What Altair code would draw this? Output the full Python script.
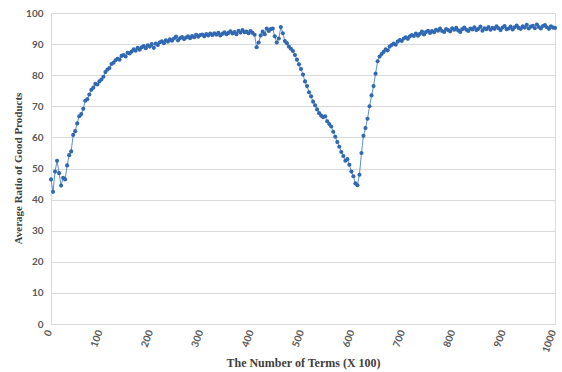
import altair as alt
import pandas as pd

x_step = 4
ratio = [
    46.5, 42.5, 49.0, 52.5, 48.5, 44.5, 47.0, 46.5, 51.0, 54.3,
    55.5, 60.8, 62.0, 64.5, 66.8, 67.5, 69.2, 71.8, 72.3, 73.8,
    75.3, 76.0, 77.2, 77.0, 78.0, 78.6, 79.5, 81.0, 81.8, 82.3,
    83.6, 84.0, 84.8, 85.3, 85.0, 86.2, 86.5, 86.0, 87.2, 87.0,
    87.6, 88.3, 87.9, 88.8, 88.2, 89.0, 89.4, 88.7, 89.6, 89.2,
    90.0, 88.8, 90.2, 89.7, 90.6, 90.9, 90.3, 91.2, 90.8, 91.5,
    91.1, 91.8, 92.4, 91.2, 91.9, 92.3, 91.6, 92.1, 92.5, 91.9,
    92.6, 92.2, 93.0, 92.4, 92.9, 93.1, 92.5, 93.2, 92.8, 93.4,
    92.9, 93.5, 93.0, 93.6, 92.8, 93.3, 93.8, 93.2, 93.6, 94.1,
    93.4, 93.9, 93.2, 94.3, 93.7, 94.5, 93.8, 94.0, 93.5, 94.2,
    93.6, 93.0, 89.0, 90.5, 92.8, 94.0, 93.2, 95.0, 94.2, 94.8,
    95.0, 92.5, 90.5, 91.8, 95.5, 93.5, 91.0, 90.3, 89.2, 88.5,
    87.8, 86.5, 85.0, 83.5, 82.0, 80.2, 78.0, 76.5, 74.5, 73.2,
    71.5, 70.3, 69.0, 67.8, 67.0, 66.5, 66.8, 65.2, 64.3, 63.5,
    61.8, 60.2, 58.5, 57.0, 55.3, 54.0, 52.5, 53.0, 51.2, 49.0,
    47.5, 45.2, 44.6, 48.0, 55.0, 60.5, 63.0, 66.0, 70.0, 73.5,
    76.5, 80.5, 84.5, 86.0, 86.8, 87.5, 88.3, 88.0, 89.2, 89.7,
    90.2, 89.8, 90.8, 91.3, 91.0, 91.8, 92.2, 91.7, 92.5, 92.9,
    92.6, 93.4, 92.7, 93.3, 94.0, 93.1, 93.9, 94.3, 93.6, 94.2,
    93.8, 94.6, 94.3, 95.0, 94.2, 93.9, 94.8, 94.5, 94.1, 95.1,
    94.6, 95.2, 94.4, 93.9, 94.8, 95.3, 94.6, 94.2, 95.0, 94.7,
    95.4, 94.5, 94.9, 95.6, 94.3, 95.1, 94.8, 95.5, 94.6, 95.2,
    94.9, 95.7, 95.1, 94.5, 95.3, 95.8, 94.8, 95.0, 95.6, 94.7,
    95.4, 96.0, 95.2, 94.9, 95.7, 95.3, 96.2, 95.0, 95.6, 95.9,
    95.1, 96.3, 95.5, 95.0, 95.8, 96.1, 95.4, 94.9, 95.7, 95.3,
    95.2,
]
x_ticks = [0, 100, 200, 300, 400, 500, 600, 700, 800, 900, 1000]
y_ticks = [0, 10, 20, 30, 40, 50, 60, 70, 80, 90, 100]

df = pd.DataFrame({"terms": [i * x_step for i in range(len(ratio))], "ratio": ratio})

x_enc = alt.X(
    "terms:Q",
    scale=alt.Scale(domain=[0, 1000], nice=False),
    axis=alt.Axis(
        values=x_ticks, format="d", title="The Number of Terms (X 100)", grid=False,
        labelAngle=-70, labelAlign="right", labelBaseline="middle",
        labelPadding=6, labelOffset=-2, ticks=False,
        domainColor="#D9D9D9", labelColor="#595959", labelFont="Lato",
        labelFontSize=10, labelFontWeight="bold",
        titleFont="Liberation Serif", titleFontSize=12, titleFontWeight="bold",
        titleColor="#404040", titleX=252, titleY=38, titleBaseline="middle",
        titleAlign="center",
    ),
)
y_enc = alt.Y(
    "ratio:Q",
    scale=alt.Scale(domain=[0, 100], nice=False),
    axis=alt.Axis(
        values=y_ticks, title="Average Ratio of Good Products",
        gridColor="#D9D9D9", ticks=False, labelPadding=8,
        domainColor="#D9D9D9", labelColor="#595959", labelFont="Lato",
        labelFontSize=10, labelFontWeight="bold",
        titleFont="Liberation Serif", titleFontSize=11, titleFontWeight="bold",
        titleColor="#404040", titleX=-33, titleY=155, titleBaseline="middle",
        titleAlign="center", titleAngle=-90,
    ),
)

line = alt.Chart(df).mark_line(color="#5E8FD2", strokeWidth=1).encode(x=x_enc, y=y_enc)
pts = alt.Chart(df).mark_circle(color="#3068B2", size=17, opacity=1).encode(x=x_enc, y=y_enc)

chart = (line + pts).properties(
    width=504, height=311,
    autosize=alt.AutoSizeParams(type="none"),
    padding={"left": 51, "top": 13, "right": 7, "bottom": 48},
).configure_view(stroke=None).configure(background="white")

chart.save("out.html", embed_options={"renderer": "svg", "actions": False})
